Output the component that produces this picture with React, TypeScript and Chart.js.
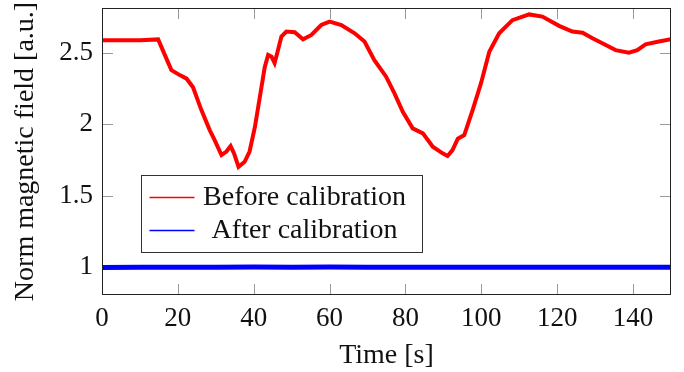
import React, { useEffect, useRef } from "react";
import { Chart, registerables } from "chart.js";

Chart.register(...registerables);

// ---- data ----
const redTimes = [
  0, 5, 10, 14.8, 16.5, 18.3, 20.5, 22.3, 24, 26.2, 28.4, 29.7, 31.5, 32.8, 33.9, 34.8, 36, 37.6,
  38.9, 40.3, 41.6, 42.9, 43.8, 44.7, 45.5, 46.2, 47.3, 48.6, 50.8, 53, 55.2, 57.8, 60, 63.1, 66.6,
  69.2, 71.8, 74.9, 77.1, 79.3, 81.9, 84.6, 87.2, 89.8, 91.1, 92.4, 93.8, 95.5, 97.7, 99.9, 102.1,
  104.7, 108.2, 112.6, 116.1, 120.5, 124, 126.7, 129.3, 132.8, 135.4, 138.9, 141.1, 143.3, 146.8, 150,
];
const redValues = [
  2.59, 2.59, 2.59, 2.595, 2.49, 2.38, 2.345, 2.32, 2.26, 2.1, 1.96, 1.89, 1.785, 1.81, 1.848, 1.797,
  1.703, 1.738, 1.81, 1.98, 2.19, 2.4, 2.486, 2.474, 2.43, 2.5, 2.615, 2.65, 2.645, 2.596, 2.626,
  2.696, 2.72, 2.696, 2.638, 2.58, 2.45, 2.334, 2.217, 2.088, 1.972, 1.937, 1.843, 1.797, 1.778, 1.82,
  1.9, 1.925, 2.1, 2.287, 2.509, 2.638, 2.73, 2.77, 2.755, 2.69, 2.65, 2.642, 2.603, 2.556, 2.52,
  2.502, 2.52, 2.561, 2.58, 2.596,
];
const blueTimes = [0, 10, 20, 30, 40, 50, 60, 70, 80, 90, 100, 110, 120, 130, 140, 150];
const blueValues = [
  0.998, 1.0, 0.999, 1.0, 1.001, 0.999, 1.001, 1.0, 0.999, 1.0, 1.0, 0.999, 1.0, 1.0, 0.999, 1.0,
];
const seriesLabels = ["Before calibration", "After calibration"];
const seriesColors = ["#ff0000", "#0000ff"];
const xTickValues = [0, 20, 40, 60, 80, 100, 120, 140];
const yTickValues = [1, 1.5, 2, 2.5];
const xTitle = "Time [s]";
const yTitle = "Norm magnetic field [a.u.]";
const xRange = [0, 150];
const yRange = [0.805, 2.815];

const FONT = "'Liberation Serif', 'Times New Roman', serif";

const framePlugin = {
  id: "pgfFrame",
  beforeDatasetsDraw(chart: any) {
    const { ctx, chartArea: a, scales } = chart;
    const L = 11;
    ctx.save();
    ctx.strokeStyle = "#9a9a9a";
    ctx.lineWidth = 1;
    ctx.beginPath();
    xTickValues.forEach((v) => {
      const x = Math.round(scales.x.getPixelForValue(v)) + 0.5;
      ctx.moveTo(x, a.bottom);
      ctx.lineTo(x, a.bottom - L);
      ctx.moveTo(x, a.top);
      ctx.lineTo(x, a.top + L);
    });
    yTickValues.forEach((v) => {
      const y = Math.round(scales.y.getPixelForValue(v)) + 0.5;
      ctx.moveTo(a.left, y);
      ctx.lineTo(a.left + L, y);
      ctx.moveTo(a.right, y);
      ctx.lineTo(a.right - L, y);
    });
    ctx.stroke();
    ctx.restore();
  },
  afterDatasetsDraw(chart: any) {
    const { ctx, chartArea: a } = chart;
    ctx.save();
    ctx.strokeStyle = "#222";
    ctx.lineWidth = 1;
    ctx.strokeRect(Math.round(a.left) + 0.5, Math.round(a.top) + 0.5, Math.round(a.right - a.left) - 1, Math.round(a.bottom - a.top) - 1);
    ctx.restore();
  },
  afterDraw(chart: any) {
    const { ctx, chartArea: a } = chart;
    const bx = a.left + 39.5;
    const by = a.top + 167.5;
    const bw = 281;
    const bh = 77;
    ctx.save();
    ctx.fillStyle = "#fff";
    ctx.fillRect(bx, by, bw, bh);
    ctx.strokeStyle = "#333";
    ctx.lineWidth = 1;
    ctx.strokeRect(bx, by, bw, bh);
    const rows = [22, 55];
    seriesLabels.forEach((label, i) => {
      const ly = by + rows[i];
      ctx.beginPath();
      ctx.strokeStyle = seriesColors[i];
      ctx.lineWidth = 1.5;
      ctx.moveTo(bx + 8, ly);
      ctx.lineTo(bx + 53, ly);
      ctx.stroke();
      ctx.fillStyle = "#111";
      ctx.font = `28px ${FONT}`;
      ctx.textAlign = "center";
      ctx.textBaseline = "alphabetic";
      ctx.fillText(label, bx + 163, ly + 7);
    });
    ctx.restore();
  },
};

export default function App() {
  const ref = useRef<HTMLCanvasElement | null>(null);
  useEffect(() => {
    document.body.style.margin = "0";
    const canvas = ref.current;
    if (!canvas) return;
    const chart = new Chart(canvas, {
      type: "line",
      data: {
        datasets: [
          {
            label: seriesLabels[0],
            data: redTimes.map((t, i) => ({ x: t, y: redValues[i] })),
            borderColor: seriesColors[0],
            borderWidth: 4,
            pointRadius: 0,
            tension: 0,
          },
          {
            label: seriesLabels[1],
            data: blueTimes.map((t, i) => ({ x: t, y: blueValues[i] })),
            borderColor: seriesColors[1],
            borderWidth: 5,
            pointRadius: 0,
            tension: 0,
          },
        ],
      },
      options: {
        animation: false,
        responsive: false,
        devicePixelRatio: 1,
        layout: { padding: { top: 8, right: 13, left: 0, bottom: 0 } },
        plugins: { legend: { display: false }, tooltip: { enabled: false } },
        scales: {
          x: {
            type: "linear",
            min: xRange[0],
            max: xRange[1],
            grid: { display: false, drawTicks: false },
            border: { display: false },
            afterBuildTicks: (s: any) => {
              s.ticks = xTickValues.map((v) => ({ value: v }));
            },
            afterFit: (s: any) => {
              s.height = 77;
              s.paddingLeft = 0;
              s.paddingRight = 0;
              s.paddingTop = 0;
              s.paddingBottom = 0;
            },
            ticks: {
              autoSkip: false,
              maxRotation: 0,
              padding: 8,
              color: "#111",
              font: { family: FONT, size: 27 },
              callback: (v: any) => String(v),
            },
            title: {
              display: true,
              text: xTitle,
              color: "#111",
              font: { family: FONT, size: 28, lineHeight: 1 },
              padding: { top: 0, bottom: 2 },
            },
          },
          y: {
            type: "linear",
            min: yRange[0],
            max: yRange[1],
            grid: { display: false, drawTicks: false },
            border: { display: false },
            afterBuildTicks: (s: any) => {
              s.ticks = yTickValues.map((v) => ({ value: v }));
            },
            afterFit: (s: any) => {
              s.width = 102;
              s.paddingTop = 0;
              s.paddingBottom = 0;
              s.paddingLeft = 0;
              s.paddingRight = 0;
            },
            ticks: {
              autoSkip: false,
              padding: 9,
              color: "#111",
              font: { family: FONT, size: 27 },
              callback: (v: any) => String(v),
            },
            title: {
              display: true,
              text: yTitle,
              color: "#111",
              font: { family: FONT, size: 28, lineHeight: 1 },
              padding: { top: 12, bottom: 0 },
            },
          },
        },
      },
      plugins: [framePlugin],
    });
    return () => chart.destroy();
  }, []);
  return <canvas ref={ref} width={684} height={372} style={{ display: "block" }} />;
}
